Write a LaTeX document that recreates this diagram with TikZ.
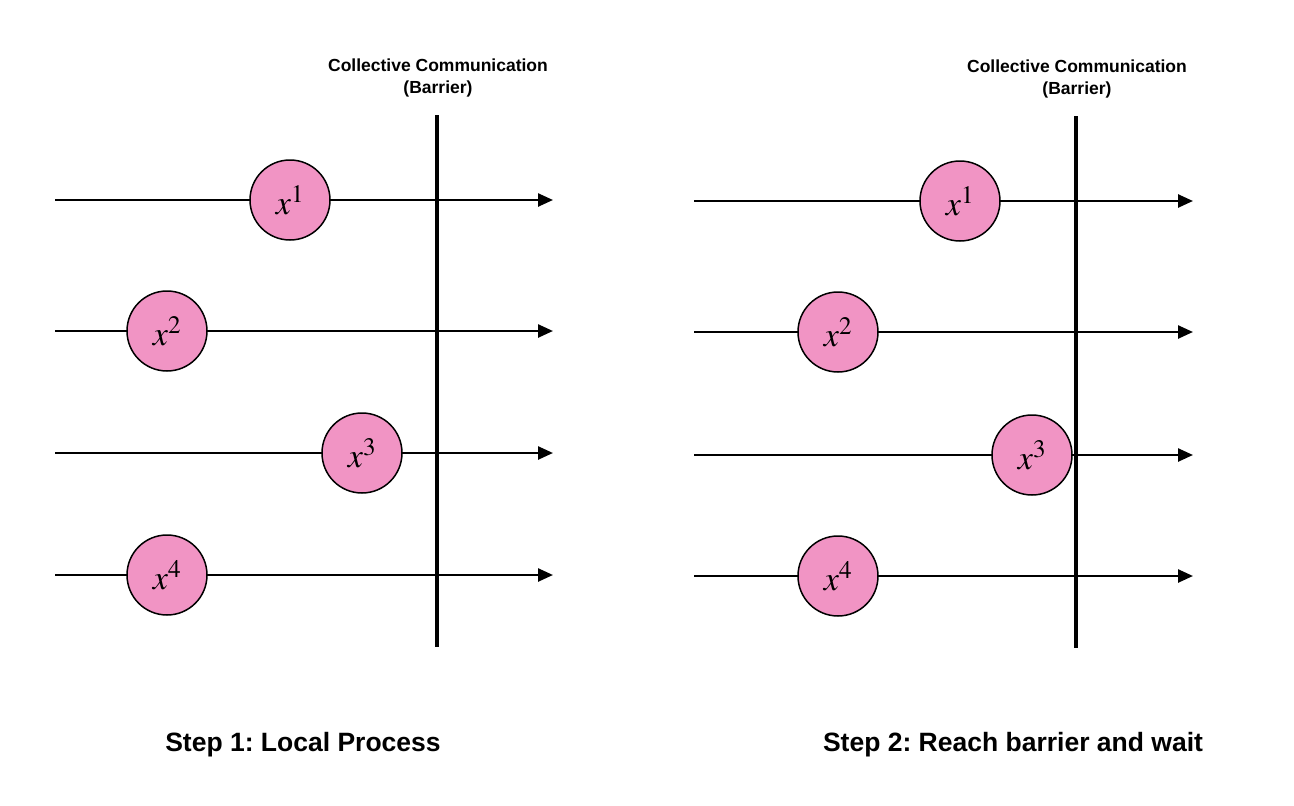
\documentclass[tikz,border=0pt]{standalone}
\usepackage{amsmath}
\usepackage{mathptmx}
\usepackage{fontspec}
\setsansfont{Liberation Sans}
\usepackage{tikz}
\usetikzlibrary{arrows.meta}

\definecolor{procpink}{RGB}{241,148,196}
\frenchspacing

\begin{document}
\begin{tikzpicture}[x=1pt,y=-1pt,
    proc/.style={circle,draw,line width=1.5pt,fill=procpink,minimum size=80pt,inner sep=0pt,font=\fontsize{34}{38}\selectfont},
    timeline/.style={line width=2.5pt,-{Triangle[length=15pt,width=13pt]}},
    barrier/.style={line width=4.5pt},
    barlabel/.style={align=center,font=\sffamily\bfseries\fontsize{17.5}{22}\selectfont},
    steplabel/.style={font=\sffamily\bfseries\fontsize{26.5}{30}\selectfont}]
                      \useasboundingbox (0,0) rectangle (1294,806);
                      % step 1
                      \coordinate (ls1) at (55,200);  \coordinate (le1) at (553,200);
                      \coordinate (ls2) at (55,331);  \coordinate (le2) at (553,331);
                      \coordinate (ls3) at (55,453);  \coordinate (le3) at (553,453);
                      \coordinate (ls4) at (55,575);  \coordinate (le4) at (553,575);
                      \coordinate (lbt) at (437,115); \coordinate (lbb) at (437,647);
                      \draw[timeline] (ls1) -- (le1);
                      \draw[timeline] (ls2) -- (le2);
                      \draw[timeline] (ls3) -- (le3);
                      \draw[timeline] (ls4) -- (le4);
                      \draw[barrier] (lbt) -- (lbb);
                      \node[proc](la)at(290,200){$x^1$};
                      \node[proc](lb)at(167,331){$x^2$};
                      \node[proc](lc)at(362,453){$x^3$};
                      \node[proc](ld)at(167,575){$x^4$};
                      \node[barlabel](lt)at(438,78){Collective Communication\\(Barrier)};
                      \node[steplabel](ls)at(303,745){Step 1: Local Process};
                      % step 2
                      \coordinate (rs1) at (694,201);  \coordinate (re1) at (1193,201);
                      \coordinate (rs2) at (694,332);  \coordinate (re2) at (1193,332);
                      \coordinate (rs3) at (694,455);  \coordinate (re3) at (1193,455);
                      \coordinate (rs4) at (694,576);  \coordinate (re4) at (1193,576);
                      \coordinate (rbt) at (1076,116); \coordinate (rbb) at (1076,648);
                      \draw[timeline] (rs1) -- (re1);
                      \draw[timeline] (rs2) -- (re2);
                      \draw[timeline] (rs3) -- (re3);
                      \draw[timeline] (rs4) -- (re4);
                      \node[proc](ra)at(960,201){$x^1$};
                      \node[proc](rb)at(838,332){$x^2$};
                      \node[proc](rc)at(1032,455){$x^3$};
                      \node[proc](rd)at(838,576){$x^4$};
                      \draw[barrier] (rbt) -- (rbb);
                      \node[barlabel](rt)at(1077,79){Collective Communication\\(Barrier)};
                      \node[steplabel](rl)at(1013,745){Step 2: Reach barrier and wait};
                  \end{tikzpicture}
\end{document}
